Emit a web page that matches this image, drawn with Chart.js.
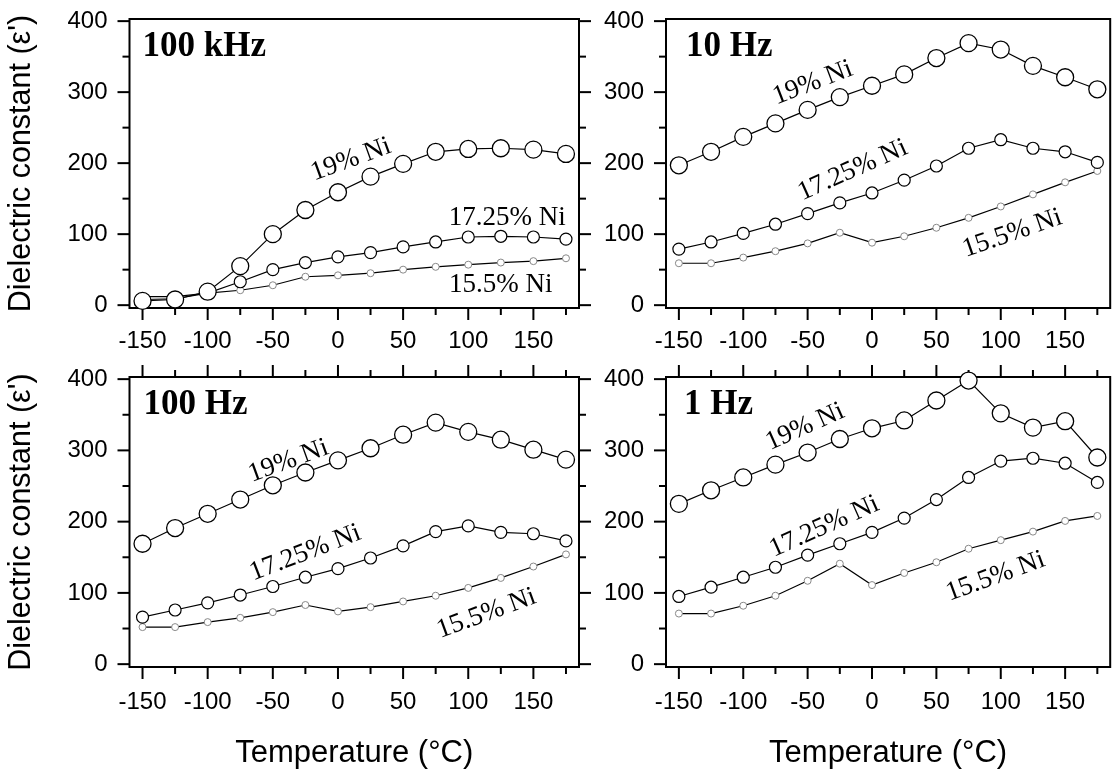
<!DOCTYPE html>
<html>
<head>
<meta charset="utf-8">
<script src="https://cdn.jsdelivr.net/npm/chart.js"></script>
<style>
  html, body { margin: 0; padding: 0; background: #fff; overflow: hidden; }
  body { width: 1115px; height: 776px; position: relative; }
  canvas { position: absolute; }
</style>
</head>
<body>
<canvas id="p1" width="600" height="360" style="left:0;top:0"></canvas>
<canvas id="p2" width="540" height="360" style="left:580px;top:0"></canvas>
<canvas id="p3" width="600" height="416" style="left:0;top:360px"></canvas>
<canvas id="p4" width="540" height="416" style="left:580px;top:360px"></canvas>
<script>
// temperatures (°C)
const temps = [-150, -125, -100, -75, -50, -25, 0, 25, 50, 75, 100, 125, 150, 175];

// 100 kHz
const ni19_100kHz   = [6, 8, 19, 55, 100, 134, 159, 181, 199, 216, 220, 221, 219, 213];
const ni1725_100kHz = [8, 9, 17, 33, 50, 60, 68, 74, 82, 89, 96, 97, 96, 93];
const ni155_100kHz  = [12, 12, 17, 21, 28, 40, 42, 45, 50, 54, 57, 60, 62, 66];
// 10 Hz
const ni19_10Hz   = [197, 216, 237, 256, 275, 293, 309, 325, 348, 369, 360, 337, 321, 304];
const ni1725_10Hz = [79, 89, 101, 114, 129, 144, 158, 176, 196, 221, 233, 221, 216, 201];
const ni155_10Hz  = [59, 59, 67, 76, 87, 102, 88, 97, 109, 123, 139, 156, 173, 189];
// 100 Hz
const ni19_100Hz   = [169, 191, 211, 231, 251, 269, 286, 303, 322, 339, 326, 315, 301, 287];
const ni1725_100Hz = [66, 76, 86, 97, 109, 122, 134, 149, 166, 186, 194, 185, 183, 173];
const ni155_100Hz  = [52, 52, 59, 65, 73, 83, 74, 80, 88, 96, 107, 121, 137, 154];
// 1 Hz
const ni19_1Hz   = [225, 244, 262, 280, 297, 316, 331, 342, 370, 398, 352, 332, 341, 290];
const ni1725_1Hz = [95, 108, 122, 136, 153, 169, 185, 205, 231, 262, 285, 289, 282, 255];
const ni155_1Hz  = [71, 71, 82, 96, 117, 141, 111, 128, 143, 162, 174, 186, 201, 208];

// tick labels
const xMajor = [-150, -100, -50, 0, 50, 100, 150];
const xMinor = [-125, -75, -25, 25, 75, 125, 175];
const yMajor = [0, 100, 200, 300, 400];
const yMinor = [50, 150, 250, 350];

const seriesNames = ['19% Ni', '17.25% Ni', '15.5% Ni'];

const sans = "'Liberation Sans', Arial, sans-serif";
const serif = "'Liberation Serif', 'Times New Roman', serif";

// box + outward ticks, minor ones shorter
const frameTicks = {
  id: 'frameTicks',
  beforeDatasetsDraw(chart, args, opts) {
    const {ctx, chartArea: a, scales: {x, y}} = chart;
    ctx.save();
    ctx.strokeStyle = '#000';
    ctx.lineWidth = 2;
    ctx.strokeRect(a.left, a.top, a.right - a.left, a.bottom - a.top);
    const seg = (x0, y0, x1, y1) => { ctx.beginPath(); ctx.moveTo(x0, y0); ctx.lineTo(x1, y1); ctx.stroke(); };
    xMajor.concat(xMinor).forEach(v => {
      const px = x.getPixelForValue(v);
      const len = xMajor.includes(v) ? 12 : 7;
      seg(px, a.bottom, px, a.bottom + len);
      if (opts.top) seg(px, a.top, px, a.top - len);
    });
    yMajor.concat(yMinor).forEach(v => {
      const py = y.getPixelForValue(v);
      const len = yMajor.includes(v) ? 12 : 7;
      seg(a.left, py, a.left - len, py);
      if (opts.right) seg(a.right, py, a.right + len, py);
    });
    ctx.restore();
  }
};

// panel name and series labels
const notes = {
  id: 'notes',
  afterDatasetsDraw(chart, args, opts) {
    const {ctx, chartArea: a, scales: {x, y}} = chart;
    ctx.save();
    ctx.fillStyle = '#000';
    ctx.font = "bold 35px " + serif;
    ctx.textBaseline = 'alphabetic';
    ctx.textAlign = 'left';
    ctx.fillText(opts.title, a.left + opts.titleDx, a.top + 37);
    ctx.font = "27px " + serif;
    ctx.textAlign = 'center';
    ctx.textBaseline = 'middle';
    opts.labels.forEach(l => {
      ctx.save();
      ctx.translate(x.getPixelForValue(l.x), y.getPixelForValue(l.y));
      ctx.rotate(l.rot * Math.PI / 180);
      ctx.fillText(l.text, 0, 0);
      ctx.restore();
    });
    ctx.restore();
  }
};

function makePanel(id, p) {
  const pts = vals => temps.map((t, i) => ({x: t, y: vals[i]}));
  const ds = (vals, r, bw, pc) => ({
    data: pts(vals),
    borderColor: '#000',
    borderWidth: 1.2,
    pointRadius: r,
    pointBorderWidth: bw,
    pointBorderColor: pc,
    pointBackgroundColor: '#fff',
    clip: false
  });
  new Chart(document.getElementById(id), {
    type: 'line',
    data: {
      datasets: [
        Object.assign(ds(p.s19, 8.5, 1.3, '#000'), {label: seriesNames[0]}),
        Object.assign(ds(p.s1725, 6, 1.2, '#000'), {label: seriesNames[1]}),
        Object.assign(ds(p.s155, 3.5, 1, '#888'), {label: seriesNames[2]})
      ]
    },
    options: {
      responsive: false,
      animation: false,
      devicePixelRatio: 1,
      layout: {padding: {left: 0, top: p.padTop, right: p.padRight, bottom: 0}},
      plugins: {
        legend: {display: false},
        tooltip: {enabled: false},
        frameTicks: {top: p.topTicks, right: p.rightTicks},
        notes: {title: p.title, titleDx: p.titleDx, labels: p.labels}
      },
      scales: {
        x: {
          type: 'linear', min: -160, max: 185,
          grid: {display: false, drawTicks: false},
          border: {display: false},
          afterBuildTicks: s => { s.ticks = xMajor.map(v => ({value: v})); },
          afterFit: s => { s.height = p.xHeight; s.paddingLeft = 0; s.paddingRight = 0; },
          ticks: {color: '#000', padding: p.xPad, maxRotation: 0, autoSkip: false,
                  font: {family: sans, size: 24}},
          title: {display: p.xTitle, text: 'Temperature (°C)', color: '#000',
                  font: {family: sans, size: 31}, padding: {top: 0, bottom: 4}}
        },
        y: {
          type: 'linear', min: -4, max: 403,
          grid: {display: false, drawTicks: false},
          border: {display: false},
          afterBuildTicks: s => { s.ticks = yMajor.map(v => ({value: v})); },
          afterFit: s => { s.width = p.yWidth; s.paddingTop = 0; s.paddingBottom = 0; },
          ticks: {color: '#000', padding: 22, font: {family: sans, size: 24}},
          title: {display: p.yTitle, text: "Dielectric constant (ε')", color: '#000',
                  font: {family: sans, size: 30.5}, padding: {top: 3, bottom: 0}}
        }
      }
    },
    plugins: [frameTicks, notes]
  });
}

makePanel('p1', {
  s19: ni19_100kHz, s1725: ni1725_100kHz, s155: ni155_100kHz,
  title: '100 kHz', titleDx: 13,
  padTop: 19, padRight: 21, yWidth: 129.5, xHeight: 52, xPad: 19,
  topTicks: false, rightTicks: true, xTitle: false, yTitle: true,
  labels: [
    {text: seriesNames[0], x: 10, y: 205, rot: -20},
    {text: seriesNames[1], x: 130, y: 123, rot: 0},
    {text: seriesNames[2], x: 125, y: 29, rot: 0}
  ]
});
makePanel('p2', {
  s19: ni19_10Hz, s1725: ni1725_10Hz, s155: ni155_10Hz,
  title: '10 Hz', titleDx: 20,
  padTop: 19, padRight: 2, yWidth: 86, xHeight: 52, xPad: 19,
  topTicks: false, rightTicks: false, xTitle: false, yTitle: false,
  labels: [
    {text: seriesNames[0], x: -46, y: 313, rot: -21},
    {text: seriesNames[1], x: -15, y: 190, rot: -24},
    {text: seriesNames[2], x: 109, y: 101, rot: -19}
  ]
});
makePanel('p3', {
  s19: ni19_100Hz, s1725: ni1725_100Hz, s155: ni155_100Hz,
  title: '100 Hz', titleDx: 14,
  padTop: 17, padRight: 21, yWidth: 129.5, xHeight: 109, xPad: 21,
  topTicks: true, rightTicks: true, xTitle: true, yTitle: true,
  labels: [
    {text: seriesNames[0], x: -38, y: 285, rot: -20},
    {text: seriesNames[1], x: -25, y: 156, rot: -21},
    {text: seriesNames[2], x: 114, y: 71, rot: -20}
  ]
});
makePanel('p4', {
  s19: ni19_1Hz, s1725: ni1725_1Hz, s155: ni155_1Hz,
  title: '1 Hz', titleDx: 18,
  padTop: 17, padRight: 2, yWidth: 86, xHeight: 109, xPad: 21,
  topTicks: true, rightTicks: false, xTitle: true, yTitle: false,
  labels: [
    {text: seriesNames[0], x: -52, y: 333, rot: -24},
    {text: seriesNames[1], x: -37, y: 193, rot: -24},
    {text: seriesNames[2], x: 96, y: 123, rot: -20}
  ]
});
</script>
</body>
</html>
